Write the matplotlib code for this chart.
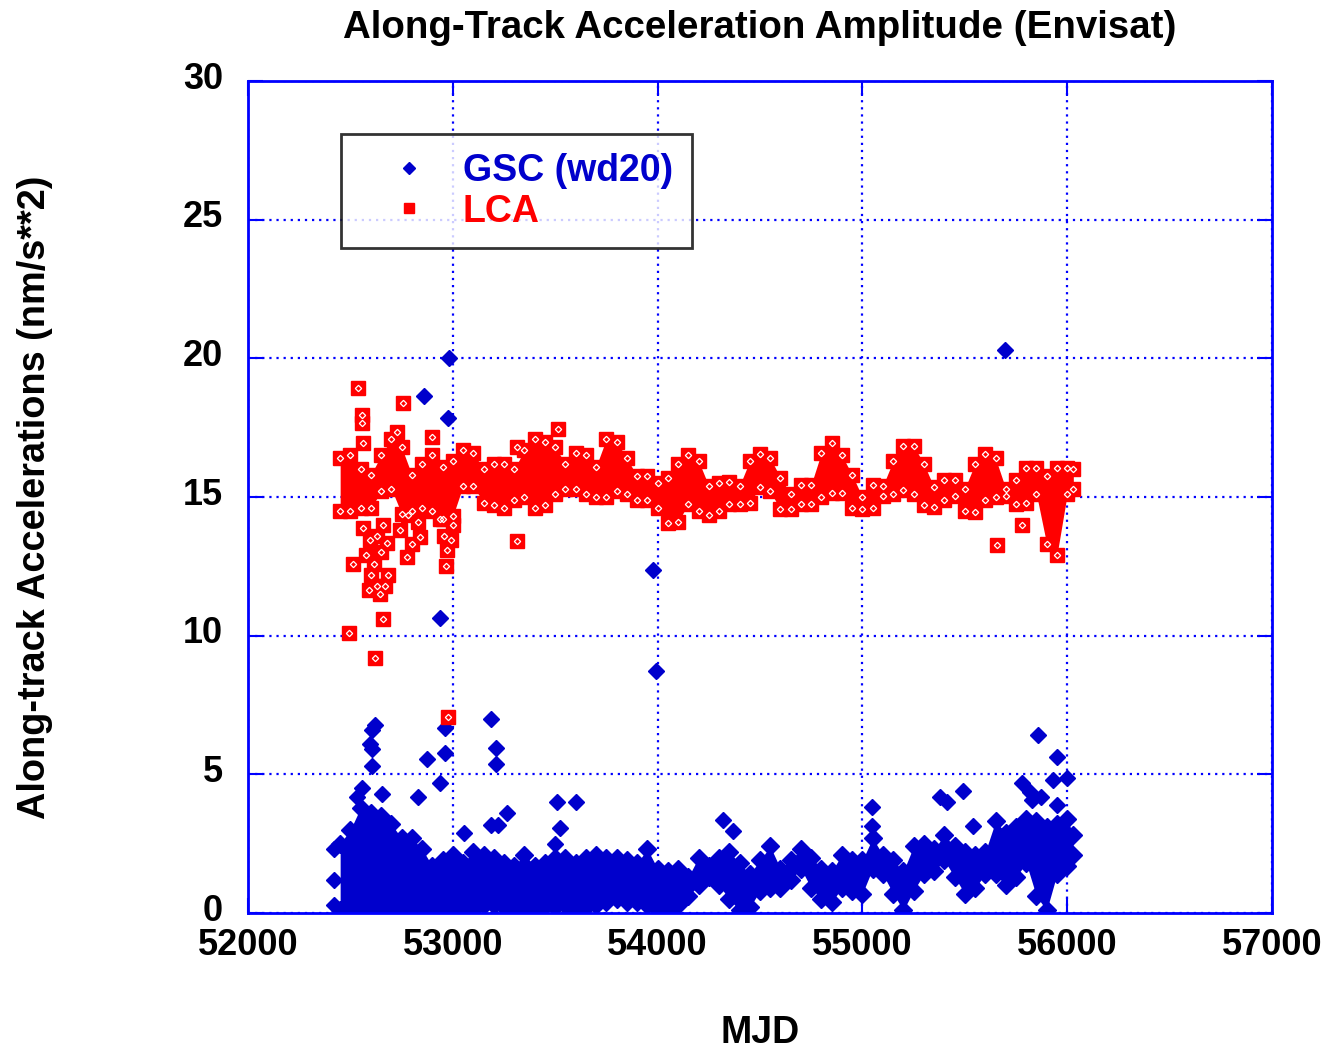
import numpy as np
import matplotlib
matplotlib.use('Agg')
import matplotlib.pyplot as plt
import matplotlib.transforms as mtransforms

plt.rcParams['font.family'] = ['Liberation Sans', 'DejaVu Sans']
plt.rcParams['font.weight'] = 'bold'

# sample epochs (MJD) for the envelope of each dense band
mjd_grid = [52450, 52500, 52550, 52600, 52650, 52700, 52750, 52800, 52850, 52900, 52950,
            53000, 53050, 53100, 53150, 53200, 53250, 53300, 53350, 53400, 53450,
            53500, 53550, 53600, 53650, 53700, 53750, 53800, 53850, 53900, 53950,
            54000, 54050, 54100, 54150, 54200, 54250, 54300, 54350, 54400, 54450,
            54500, 54550, 54600, 54650, 54700, 54750, 54800, 54850, 54900, 54950,
            55000, 55050, 55100, 55150, 55200, 55250, 55300, 55350, 55400, 55450,
            55500, 55550, 55600, 55650, 55700, 55750, 55800, 55850, 55900, 55950,
            56000, 56030]

# GSC (wd20) band: upper / lower envelope (nm/s**2)
gsc_hi = [2.5, 3.0, 3.8, 3.6, 3.5, 3.2, 2.7, 2.7, 2.3, 1.7, 1.9,
          2.1, 1.8, 2.2, 2.1, 2.0, 1.8, 1.7, 2.1, 1.7, 1.8,
          2.0, 2.0, 1.8, 2.0, 2.1, 2.0, 2.0, 1.9, 1.8, 2.3,
          1.6, 1.5, 1.6, 1.3, 2.0, 1.7, 2.0, 2.2, 1.8, 1.4,
          1.9, 2.4, 1.6, 1.9, 2.3, 2.0, 1.6, 1.5, 2.1, 1.9,
          1.9, 2.7, 2.1, 1.9, 1.5, 2.4, 2.5, 2.3, 2.8, 2.4,
          2.2, 2.1, 2.2, 3.3, 2.9, 3.1, 3.4, 3.3, 3.1, 3.2,
          3.4, 2.8]
gsc_lo = [0.1, 0.1, 0.05, 0.1, 0.1, 0.05, 0.15, 0.1, 0.2, 0.1, 0.15,
          0.1, 0.2, 0.1, 0.3, 0.3, 0.2, 0.1, 0.2, 0.15, 0.25,
          0.2, 0.3, 0.15, 0.2, 0.3, 0.4, 0.5, 0.4, 0.4, 0.3,
          0.1, 0.1, 0.3, 0.6, 1.0, 1.3, 1.0, 0.5, 0.1, 0.2,
          0.8, 0.9, 0.9, 1.2, 1.6, 0.9, 0.5, 0.4, 0.9, 0.8,
          0.7, 1.6, 1.4, 0.7, 0.1, 0.8, 1.4, 1.5, 1.9, 1.3,
          0.7, 0.9, 1.4, 1.4, 1.0, 1.3, 1.8, 0.6, 0.1, 1.4,
          1.7, 2.1]

# GSC isolated points
gsc_x = [52420, 52420, 52420, 52860, 52977, 52982, 52938, 53979, 53993, 55698,
         52620, 52606, 52596, 52606, 52606, 52557, 52532, 52655,
         52875, 52830, 52962, 52962, 52938, 53187, 53211, 53211, 53265,
         53187, 53221, 53510, 53602, 53524, 53055, 53500, 54320, 54370,
         55048, 55048, 55380, 55415, 55493, 55542, 55781, 55820, 55874,
         55859, 55952, 55932, 55952, 56000, 55830]
gsc_y = [2.3, 1.2, 0.3, 18.64, 17.85, 20.0, 10.64, 12.37, 8.73, 20.3,
         6.78, 6.6, 6.1, 5.9, 5.3, 4.5, 4.2, 4.3,
         5.55, 4.2, 6.67, 5.77, 4.7, 7.0, 5.95, 5.37, 3.6,
         3.17, 3.17, 4.0, 4.0, 3.07, 2.9, 2.5, 3.35, 2.95,
         3.82, 3.14, 4.2, 4.0, 4.4, 3.14, 4.7, 4.37, 4.2,
         6.42, 5.63, 4.8, 3.9, 4.87, 4.07]

# LCA band: upper / lower envelope
lca_hi = [16.4, 16.5, 16.0, 15.8, 16.5, 17.1, 16.8, 15.8, 16.2, 16.5, 16.1,
          16.3, 16.7, 16.6, 16.0, 16.2, 16.2, 16.0, 16.7, 17.1, 17.0,
          16.8, 16.2, 16.6, 16.5, 16.1, 17.1, 17.0, 16.4, 15.75, 15.75,
          15.5, 15.7, 16.2, 16.5, 16.3, 15.4, 15.5, 15.55, 15.4, 16.3,
          16.55, 16.4, 15.7, 15.1, 15.45, 15.45, 16.6, 16.95, 16.5, 15.8,
          15.0, 15.45, 15.4, 16.3, 16.85, 16.85, 16.2, 15.35, 15.6, 15.6,
          15.3, 16.2, 16.55, 16.4, 15.3, 15.6, 16.05, 16.05, 15.75, 16.05,
          16.05, 16.0]
lca_lo = [14.5, 14.5, 14.6, 14.6, 15.2, 15.3, 14.4, 14.5, 14.6, 14.5, 14.2,
          14.3, 15.4, 15.4, 14.8, 14.7, 14.6, 14.9, 15.0, 14.6, 14.7,
          15.1, 15.3, 15.3, 15.1, 15.0, 15.0, 15.2, 15.1, 14.9, 14.9,
          14.6, 14.05, 14.1, 14.75, 14.5, 14.35, 14.5, 14.75, 14.75, 14.8,
          15.35, 15.2, 14.55, 14.55, 14.75, 14.75, 15.0, 15.15, 15.15, 14.6,
          14.55, 14.6, 15.05, 15.1, 15.25, 15.1, 14.7, 14.65, 14.9, 15.05,
          14.5, 14.45, 14.9, 15.0, 15.05, 14.75, 14.8, 15.1, 13.3, 12.9,
          15.1, 15.3]

# LCA isolated points
lca_x = [52562, 52596, 52630, 52660, 52576, 52615, 52650, 52679, 52601, 52630,
         52591, 52669, 52645, 52684, 52513, 52493, 52620, 52660, 52742, 52777,
         52801, 52840, 52830, 52782, 52938, 52957, 52972, 52967, 52992, 53001,
         52977, 52537, 52757, 52557, 52557, 52562, 52899, 52728, 53314, 53515,
         53314, 55659, 55781]
lca_y = [13.9, 13.45, 13.6, 14.0, 12.9, 12.6, 13.0, 13.35, 12.2, 11.8,
         11.65, 11.8, 11.5, 12.2, 12.6, 10.1, 9.2, 10.6, 13.8, 12.85,
         13.3, 13.55, 14.1, 14.35, 14.2, 13.6, 13.1, 12.5, 13.45, 14.0,
         7.07, 18.93, 18.39, 17.96, 17.67, 16.95, 17.17, 17.35, 16.8, 17.45,
         13.41, 13.27, 13.99]

blue = '#0000CC'
red = '#FF0000'
grid_blue = '#0000FF'

fig, ax = plt.subplots(figsize=(13.29, 10.51), dpi=100)
fig.subplots_adjust(left=0.1866, right=0.9571, top=0.9229, bottom=0.1313)

# GSC band
ax.fill_between(mjd_grid, gsc_lo, gsc_hi, color=blue, lw=0, zorder=2)
for yy in (gsc_hi, gsc_lo):
    ax.plot(mjd_grid, yy, ls='none', marker='D', ms=9, color=blue, zorder=2)
ax.plot(gsc_x, gsc_y, ls='none', marker='D', ms=8.5, color=blue, zorder=2)
gsc_handle, = ax.plot([], [], ls='none', marker='D', ms=6.5, color=blue,
                      label='GSC (wd20)')

# LCA band
ax.fill_between(mjd_grid, lca_lo, lca_hi, color=red, lw=0, zorder=3)
for xx, yy in ((mjd_grid, lca_hi), (mjd_grid, lca_lo), (lca_x, lca_y)):
    ax.plot(xx, yy, ls='none', marker='s', ms=9.5, color=red, zorder=3)
    ax.plot(xx, yy, ls='none', marker='D', ms=3.2, mfc='none', mec='white',
            mew=0.9, zorder=4)
lca_handle, = ax.plot([], [], ls='none', marker='s', ms=6.5, color=red,
                      label='LCA')

ax.set_xlim(52000, 57000)
ax.set_ylim(0, 30)
ax.set_xticks(np.arange(52000, 57001, 1000))
ax.set_yticks(np.arange(0, 31, 5))

ax.grid(True, color=grid_blue, linestyle=(0, (1, 2.2)), linewidth=1.6)
ax.set_axisbelow(True)
for s in ax.spines.values():
    s.set_color(grid_blue)
    s.set_linewidth(2)
ax.tick_params(direction='in', length=11, width=1.5, color=grid_blue,
               top=True, right=True, labelsize=26, labelcolor='black')
ax.tick_params(axis='x', pad=11)
ax.tick_params(axis='y', pad=18)

# y tick labels sit a little above their grid lines
shift = mtransforms.ScaledTranslation(0, 6 / 100, fig.dpi_scale_trans)
for lab in ax.get_yticklabels():
    lab.set_transform(lab.get_transform() + shift)

ax.set_title('Along-Track Acceleration Amplitude (Envisat)', fontsize=27.7,
             fontweight='bold', pad=31)
ax.set_xlabel('MJD', fontsize=27, fontweight='bold')
ax.set_ylabel('Along-track Accelerations (nm/s**2)', fontsize=27.3,
              fontweight='bold')
ax.xaxis.set_label_coords(0.5, -0.122)
ax.yaxis.set_label_coords(-0.19, 0.5)

leg = ax.legend(handles=[gsc_handle, lca_handle], loc='upper left',
                bbox_to_anchor=(0.0908, 0.936),
                fontsize=27, frameon=True, fancybox=False, borderpad=0.5,
                handlelength=2.65, handletextpad=0.1, labelspacing=0.12,
                borderaxespad=0, labelcolor='linecolor')
leg.get_frame().set_edgecolor('black')
leg.get_frame().set_linewidth(2)
leg.set_zorder(10)

plt.savefig('out.png', dpi=100)
